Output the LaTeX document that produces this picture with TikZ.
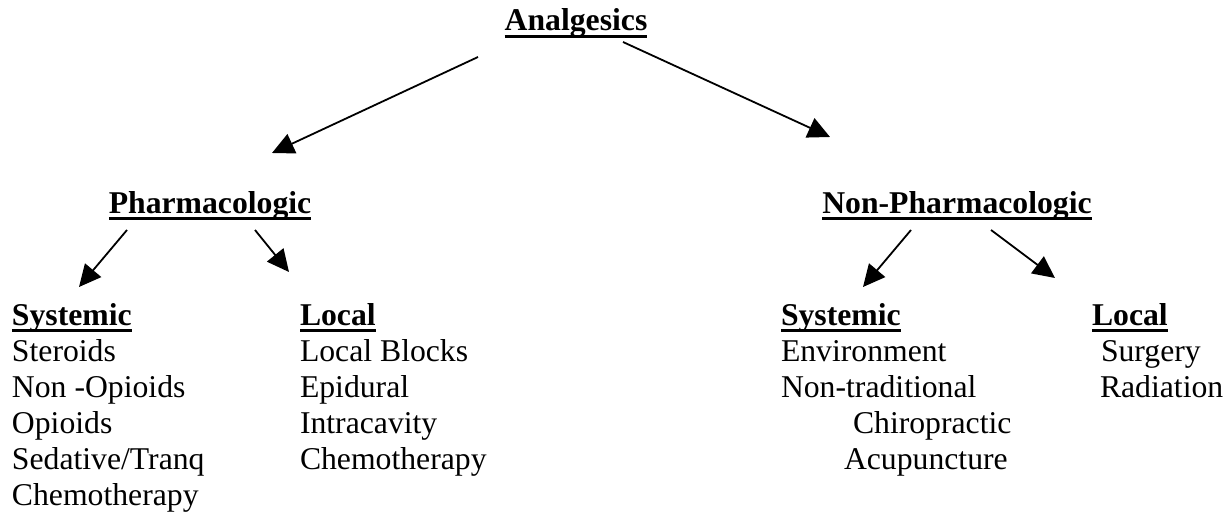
\documentclass[tikz,border=0pt]{standalone}
\usepackage{fontspec}
\setmainfont{Liberation Serif}
\usetikzlibrary{arrows.meta}
\tikzset{
  headtext/.style={font=\fontsize{31.7}{36}\selectfont\bfseries, inner sep=0pt, outer sep=0pt},
  itemtext/.style={font=\fontsize{31.7}{36}\selectfont, inner sep=0pt, outer sep=0pt, anchor=base west},
  uline/.style={line width=2.4pt},
  arr/.style={line width=1.8pt, -{Triangle[length=22pt,width=21pt]}},
}
\newcommand{\ulnode}[1]{\draw[uline] ([yshift=-5.5pt]#1.base west) -- ([yshift=-5.5pt]#1.base east);}
\begin{document}
\begin{tikzpicture}[x=1pt,y=-1pt]
\useasboundingbox (0,0) rectangle (1231,516);
% headings
\node[headtext, anchor=base] (an) at (576,31) {Analgesics};
\node[headtext, anchor=base] (ph) at (210,213) {Pharmacologic};
\node[headtext, anchor=base] (np) at (957,213) {Non-Pharmacologic};
\node[headtext, anchor=base west] (ps) at (12,325) {Systemic};
\node[headtext, anchor=base west] (pl) at (300,325) {Local};
\node[headtext, anchor=base west] (ns) at (781,325) {Systemic};
\node[headtext, anchor=base west] (nl) at (1092,325) {Local};
\ulnode{an}\ulnode{ph}\ulnode{np}\ulnode{ps}\ulnode{pl}\ulnode{ns}\ulnode{nl}
% left systemic list
\node[itemtext] (ps1) at (12,361) {Steroids};
\node[itemtext] (ps2) at (12,397) {Non -Opioids};
\node[itemtext] (ps3) at (12,433) {Opioids};
\node[itemtext] (ps4) at (12,469) {Sedative/Tranq};
\node[itemtext] (ps5) at (12,505) {Chemotherapy};
% left local list
\node[itemtext] (pl1) at (300,361) {Local Blocks};
\node[itemtext] (pl2) at (300,397) {Epidural};
\node[itemtext] (pl3) at (300,433) {Intracavity};
\node[itemtext] (pl4) at (300,469) {Chemotherapy};
% right systemic list
\node[itemtext] (ns1) at (781,361) {Environment};
\node[itemtext] (ns2) at (781,397) {Non-traditional};
\node[itemtext] (ns3) at (853,433) {Chiropractic};
\node[itemtext] (ns4) at (844,469) {Acupuncture};
% right local list
\node[itemtext] (nl1) at (1101,361) {Surgery};
\node[itemtext] (nl2) at (1100,397) {Radiation};
% connector end points
\coordinate (a1s) at (478,57);  \coordinate (a1e) at (272,153);
\coordinate (a2s) at (623,42);  \coordinate (a2e) at (830,137);
\coordinate (b1s) at (127,230); \coordinate (b1e) at (79,287);
\coordinate (b2s) at (255,230); \coordinate (b2e) at (289,272);
\coordinate (c1s) at (911,230); \coordinate (c1e) at (863,287);
\coordinate (c2s) at (991,230); \coordinate (c2e) at (1055,278);
\draw[arr] (a1s) -- (a1e);
\draw[arr] (a2s) -- (a2e);
\draw[arr] (b1s) -- (b1e);
\draw[arr] (b2s) -- (b2e);
\draw[arr] (c1s) -- (c1e);
\draw[arr] (c2s) -- (c2e);
\end{tikzpicture}
\end{document}
